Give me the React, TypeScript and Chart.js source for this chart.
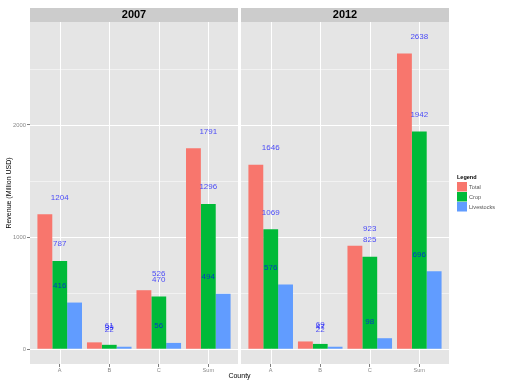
import React, { useEffect, useRef } from "react";
import { Chart, registerables } from "chart.js";
Chart.register(...registerables);

const years = ["2007", "2012"];
const counties = ["A", "B", "C", "Sum"];
const seriesNames = ["Total", "Crop", "Livestocks"];
const total2007 = [1204, 61, 526, 1791];
const crop2007 = [787, 39, 470, 1296];
const livestock2007 = [416, 22, 56, 494];
const total2012 = [1646, 69, 923, 2638];
const crop2012 = [1069, 47, 825, 1942];
const livestock2012 = [576, 22, 98, 696];
const yTicks = [0, 1000, 2000];
const yMinorTicks = [500, 1500, 2500];
const seriesColors = ["#F8766D", "#00BA38", "#619CFF"];
const labelOffset = 150;

const FONT = "'Liberation Sans', Arial, sans-serif";
const PANEL_UNITS = 4.2;
const PANEL_GAP = 0.06;
const X_MIN = 0.4;
const PANEL_SHIFT = PANEL_UNITS + PANEL_GAP;
const X_MAX = X_MIN + 2 * PANEL_UNITS + PANEL_GAP;
const xPos = (panel: number, i: number) => i + 1 + panel * PANEL_SHIFT;

const seriesByYear = [
  [total2007, crop2007, livestock2007],
  [total2012, crop2012, livestock2012],
];

const panelPlugin = {
  id: "panels",
  beforeDraw(chart: any) {
    const { ctx, chartArea, scales } = chart;
    const xs = scales.x;
    const ys = scales.y;
    ctx.save();
    years.forEach((yr, p) => {
      const left = Math.round(xs.getPixelForValue(X_MIN + p * PANEL_SHIFT));
      const right = Math.round(xs.getPixelForValue(X_MIN + p * PANEL_SHIFT + PANEL_UNITS));
      const top = chartArea.top;
      const bottom = chartArea.bottom;
      ctx.fillStyle = "#E5E5E5";
      ctx.fillRect(left, top, right - left, bottom - top);
      ctx.lineWidth = 1;
      ctx.strokeStyle = "#F2F2F2";
      yMinorTicks.forEach((v) => {
        const y = Math.round(ys.getPixelForValue(v)) + 0.5;
        ctx.beginPath();
        ctx.moveTo(left, y);
        ctx.lineTo(right, y);
        ctx.stroke();
      });
      ctx.strokeStyle = "#FFFFFF";
      yTicks.forEach((v) => {
        const y = Math.round(ys.getPixelForValue(v)) + 0.5;
        ctx.beginPath();
        ctx.moveTo(left, y);
        ctx.lineTo(right, y);
        ctx.stroke();
      });
      counties.forEach((c, i) => {
        const x = Math.round(xs.getPixelForValue(xPos(p, i))) + 0.5;
        ctx.beginPath();
        ctx.moveTo(x, top);
        ctx.lineTo(x, bottom);
        ctx.stroke();
      });
      // strip
      ctx.fillStyle = "#CCCCCC";
      ctx.fillRect(left, top - 14, right - left, 14);
      ctx.fillStyle = "#000000";
      ctx.font = `bold 11px ${FONT}`;
      ctx.textAlign = "center";
      ctx.textBaseline = "middle";
      ctx.fillText(yr, (left + right) / 2, top - 7);
    });
    ctx.restore();
  },
  afterDatasetsDraw(chart: any) {
    const { ctx, scales } = chart;
    const xs = scales.x;
    const ys = scales.y;
    ctx.save();
    ctx.font = `8px ${FONT}`;
    ctx.fillStyle = "rgba(0,0,255,0.7)";
    ctx.textAlign = "center";
    ctx.textBaseline = "middle";
    seriesByYear.forEach((series, p) => {
      series.forEach((vals) => {
        vals.forEach((v, i) => {
          ctx.fillText(String(v), xs.getPixelForValue(xPos(p, i)), ys.getPixelForValue(v + labelOffset));
        });
      });
    });
    // legend
    ctx.textAlign = "left";
    ctx.fillStyle = "#000000";
    ctx.font = `bold 5.5px ${FONT}`;
    ctx.fillText("Legend", 457, 177.5);
    seriesNames.forEach((name, i) => {
      const y0 = 182 + 10 * i;
      ctx.fillStyle = seriesColors[i];
      ctx.fillRect(457, y0, 10, 9.5);
      ctx.fillStyle = "#555555";
      ctx.font = `5.6px ${FONT}`;
      ctx.fillText(name, 469, y0 + 5);
    });
    ctx.restore();
  },
};

export default function App() {
  const ref = useRef<HTMLCanvasElement | null>(null);
  useEffect(() => {
    if (!ref.current) return;
    const datasets = seriesNames.map((name, s) => ({
      label: name,
      backgroundColor: seriesColors[s],
      borderWidth: 0,
      categoryPercentage: 0.9,
      barPercentage: 1.0,
      data: seriesByYear.flatMap((series, p) =>
        series[s].map((v, i) => ({ x: xPos(p, i), y: v }))
      ),
    }));
    const chart = new Chart(ref.current, {
      type: "bar",
      data: { datasets },
      options: {
        animation: false,
        responsive: false,
        events: [],
        layout: { padding: { top: 22, right: 63, left: 0, bottom: 0 } },
        plugins: { legend: { display: false }, tooltip: { enabled: false } },
        scales: {
          x: {
            type: "linear",
            min: X_MIN,
            max: X_MAX,
            offset: false,
            border: { display: false },
            grid: { display: true, offset: false, drawOnChartArea: false, drawTicks: true, tickLength: 3, color: "#7F7F7F" },
            afterBuildTicks: (scale: any) => {
              scale.ticks = years.flatMap((_, p) => counties.map((_, i) => ({ value: xPos(p, i) })));
            },
            afterFit: (scale: any) => {
              scale.height = 20;
            },
            ticks: {
              autoSkip: false,
              maxRotation: 0,
              padding: 0,
              color: "#8A8A8A",
              font: { family: FONT, size: 5.6 },
              callback: (_v: any, index: number) => counties[index % counties.length],
            },
            title: {
              display: true,
              text: "County",
              color: "#000000",
              font: { family: FONT, size: 7 },
              padding: { top: 0, bottom: 3.5 },
            },
          },
          y: {
            type: "linear",
            min: -132,
            max: 2918,
            border: { display: false },
            grid: { display: true, offset: false, drawOnChartArea: false, drawTicks: true, tickLength: 3, color: "#7F7F7F" },
            afterBuildTicks: (scale: any) => {
              scale.ticks = yTicks.map((v) => ({ value: v }));
            },
            afterFit: (scale: any) => {
              scale.width = 30;
            },
            ticks: {
              padding: 1,
              color: "#8A8A8A",
              font: { family: FONT, size: 5.8 },
              callback: (v: any) => String(v),
            },
            title: {
              display: true,
              text: "Revenue (Million USD)",
              color: "#000000",
              font: { family: FONT, size: 7 },
              padding: { top: 4.8, bottom: 0 },
            },
          },
        },
      },
      plugins: [panelPlugin],
    } as any);
    return () => chart.destroy();
  }, []);
  return (
    <div style={{ position: "absolute", left: 0, top: 0, width: 512, height: 384, background: "#FFFFFF" }}>
      <canvas ref={ref} width={512} height={384} style={{ display: "block" }} />
    </div>
  );
}
